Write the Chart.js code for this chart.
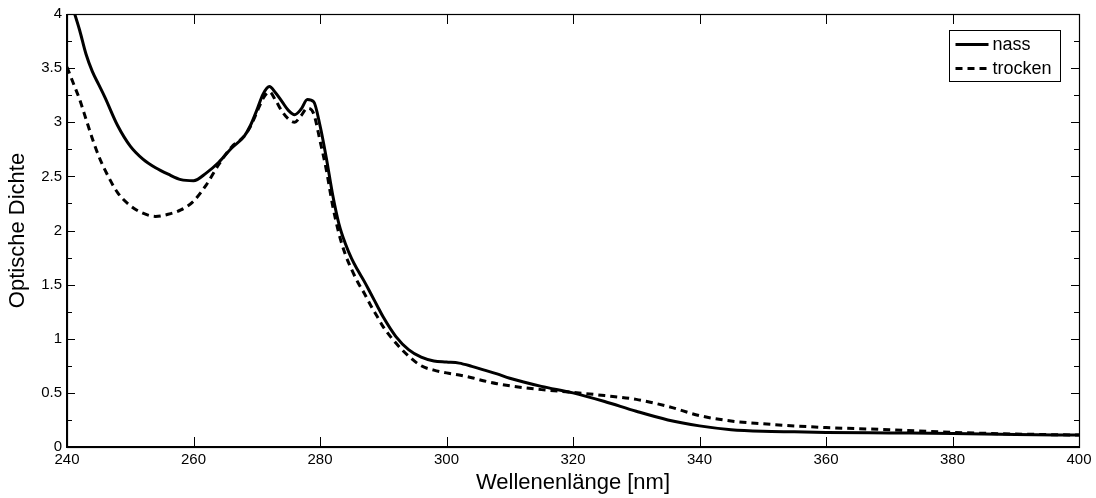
<!DOCTYPE html>
<html>
<head>
<meta charset="utf-8">
<script src="https://cdn.jsdelivr.net/npm/chart.js@4.4.0/dist/chart.umd.min.js"></script>
<style>
    html, body { margin: 0; padding: 0; background: #fff; }
</style>
</head>
<body>
<canvas id="spektrum" width="1096" height="498"></canvas>
<script>
// Wellenlängen (nm) und optische Dichte
const wellenlaenge = [240, 241, 242, 243, 244, 245, 246, 248, 250, 252, 254, 256, 258, 260,
    262, 264, 266, 268, 269, 270, 271, 272, 273, 274, 275, 276, 277, 278, 279, 280,
    281, 282, 283, 284, 285, 286, 287, 288, 289, 290, 292, 294, 296, 298, 300, 302,
    304, 306, 308, 310, 315, 320, 325, 330, 335, 340, 345, 350, 355, 360, 370, 380, 390, 400];

const nass = [4.22, 4.04, 3.85, 3.63, 3.47, 3.35, 3.23, 2.97, 2.78, 2.66, 2.58, 2.52, 2.47, 2.46,
    2.53, 2.63, 2.76, 2.87, 2.97, 3.11, 3.26, 3.33, 3.27, 3.19, 3.11, 3.07, 3.12, 3.21, 3.19, 2.97,
    2.67, 2.33, 2.06, 1.88, 1.74, 1.63, 1.53, 1.42, 1.31, 1.20, 1.02, 0.90, 0.83, 0.795, 0.785, 0.775,
    0.745, 0.71, 0.675, 0.635, 0.56, 0.50, 0.42, 0.33, 0.25, 0.195, 0.16, 0.145, 0.14, 0.135, 0.13, 0.125, 0.115, 0.11];

const trocken = [3.51, 3.36, 3.21, 3.03, 2.85, 2.69, 2.56, 2.35, 2.23, 2.16, 2.13, 2.15, 2.19, 2.27,
    2.42, 2.61, 2.77, 2.87, 2.96, 3.09, 3.22, 3.28, 3.20, 3.10, 3.03, 3.00, 3.06, 3.13, 3.08, 2.83,
    2.56, 2.23, 1.97, 1.78, 1.64, 1.52, 1.42, 1.31, 1.21, 1.11, 0.96, 0.84, 0.75, 0.71, 0.685, 0.665,
    0.64, 0.61, 0.585, 0.565, 0.53, 0.505, 0.475, 0.44, 0.375, 0.29, 0.24, 0.215, 0.195, 0.18, 0.16, 0.135, 0.12, 0.11];

const xTicks = [240, 260, 280, 300, 320, 340, 360, 380, 400];
const yTicks = [0, 0.5, 1, 1.5, 2, 2.5, 3, 3.5, 4];

const schrift = "'Liberation Sans', Arial, Helvetica, sans-serif";

// Rahmen, nach innen zeigende Ticks und Legende im MATLAB-Stil
const matlabStil = {
    id: 'matlabStil',
    afterDatasetsDraw(chart) {
        const { ctx, chartArea: a, scales } = chart;
        ctx.save();
        ctx.strokeStyle = '#000';
        ctx.lineWidth = 1;
        ctx.beginPath();
        scales.x.ticks.forEach((t) => {
            const px = Math.round(scales.x.getPixelForValue(t.value)) + 0.5;
            ctx.moveTo(px, a.bottom); ctx.lineTo(px, a.bottom - 10);
            ctx.moveTo(px, a.top); ctx.lineTo(px, a.top + 10);
        });
        scales.y.ticks.forEach((t) => {
            const py = Math.round(scales.y.getPixelForValue(t.value)) + 0.5;
            const len = yTicks.includes(t.value) ? 8 : 5;
            ctx.moveTo(a.left, py); ctx.lineTo(a.left + len, py);
            ctx.moveTo(a.right, py); ctx.lineTo(a.right - len, py);
        });
        ctx.stroke();

        // Rahmen
        ctx.lineWidth = 1.2;
        ctx.strokeRect(a.left + 0.5, a.top + 0.5, a.right - a.left, a.bottom - a.top);
        ctx.lineWidth = 2;
        ctx.beginPath();
        ctx.moveTo(a.left, a.top); ctx.lineTo(a.left, a.bottom); ctx.lineTo(a.right, a.bottom);
        ctx.stroke();

        // Legende
        const bx = 949.5, by = 30.5, bw = 111, bh = 51;
        ctx.fillStyle = '#fff';
        ctx.fillRect(bx, by, bw, bh);
        ctx.lineWidth = 1;
        ctx.strokeRect(bx, by, bw, bh);
        ctx.font = '18px ' + schrift;
        ctx.textBaseline = 'middle';
        ctx.fillStyle = '#000';
        chart.data.datasets.forEach((ds, i) => {
            const yy = by + 14 + i * 24;
            ctx.lineWidth = ds.borderWidth;
            ctx.setLineDash(ds.borderDash || []);
            ctx.beginPath();
            ctx.moveTo(bx + 6, yy); ctx.lineTo(bx + 39, yy);
            ctx.stroke();
            ctx.setLineDash([]);
            ctx.fillText(ds.label, bx + 43, yy + 1);
        });
        ctx.restore();
    },
};

new Chart(document.getElementById('spektrum'), {
    type: 'line',
    data: {
        datasets: [
            {
                label: 'nass',
                data: wellenlaenge.map((x, i) => ({ x, y: nass[i] })),
                borderColor: '#000',
                borderWidth: 3,
                pointRadius: 0,
                cubicInterpolationMode: 'monotone',
                clip: 0,
            },
            {
                label: 'trocken',
                data: wellenlaenge.map((x, i) => ({ x, y: trocken[i] })),
                borderColor: '#000',
                borderWidth: 3,
                borderDash: [7, 5],
                pointRadius: 0,
                cubicInterpolationMode: 'monotone',
                clip: 0,
            },
        ],
    },
    options: {
        responsive: false,
        animation: false,
        devicePixelRatio: 1,
        layout: { padding: { top: 14, right: 17, left: 0, bottom: 0 } },
        plugins: { legend: { display: false }, tooltip: { enabled: false } },
        scales: {
            x: {
                type: 'linear',
                min: 240,
                max: 400,
                afterBuildTicks: (s) => { s.ticks = xTicks.map((v) => ({ value: v })); },
                afterFit: (s) => { s.height = 51; },
                grid: { display: false, drawTicks: false },
                border: { display: false },
                ticks: { color: '#000', font: { size: 15, family: schrift }, padding: 4, maxRotation: 0, autoSkip: false },
                title: {
                    display: true,
                    text: 'Wellenenlänge [nm]',
                    color: '#000',
                    font: { size: 22, family: schrift },
                    padding: { top: 2, bottom: 2 },
                },
            },
            y: {
                min: 0,
                max: 4,
                ticks: {
                    stepSize: 0.25,
                    autoSkip: false,
                    color: '#000',
                    font: { size: 15, family: schrift },
                    padding: 5,
                    callback: (v) => (yTicks.includes(v) ? String(v) : ''),
                },
                afterFit: (s) => { s.width = 67; },
                grid: { display: false, drawTicks: false },
                border: { display: false },
                title: {
                    display: true,
                    text: 'Optische Dichte',
                    color: '#000',
                    font: { size: 22, family: schrift },
                    padding: { top: 5, bottom: 2 },
                },
            },
        },
    },
    plugins: [matlabStil],
});
</script>
</body>
</html>
